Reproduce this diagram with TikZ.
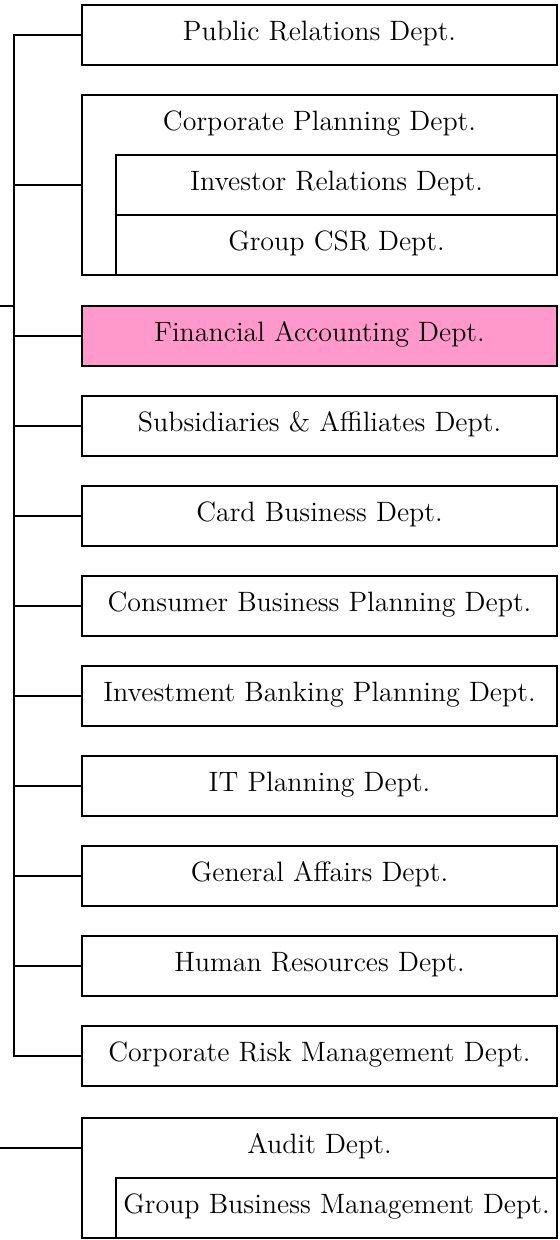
\documentclass[tikz,border=0pt]{standalone}
\usepackage{tikz}
\usetikzlibrary{calc}
\definecolor{accpink}{RGB}{255,153,204}

\begin{document}
\begin{tikzpicture}[x=0.5pt,y=-0.5pt,
    dept/.style={draw, line width=0.8pt, minimum width=237.5pt, minimum height=30pt,
        anchor=north west, inner sep=0pt, outer sep=0pt,
        text height=1.6ex, text depth=.3ex, font=\fontsize{14}{16}\selectfont},
    subdept/.style={dept, minimum width=220.5pt},
    title/.style={dept, draw=none},
    link/.style={line width=0.8pt}]
    \useasboundingbox (0,0) rectangle (560,1240);

    % Departments:
    \node[dept] (prd) at (82,5) {Public Relations Dept.};

    % Corporate planning with its two sub-departments
    \node[title] (cpd) at (82,95) {Corporate Planning Dept.};
    \node[subdept] (ird) at (116,155) {Investor Relations Dept.};
    \node[subdept] (csr) at (116,215) {Group CSR Dept.};
    \draw[link] (cpd.north west) rectangle (csr.south east);
    \coordinate (cpdmid) at ($(cpd.north west)!0.5!(cpd.north west |- csr.south)$);

    \node[dept, fill=accpink] (fad) at (82,306) {Financial Accounting Dept.};

    \foreach \name/\txt [count=\i] in {
            sad/Subsidiaries \& Affiliates Dept.,
            cbd/Card Business Dept.,
            cbp/Consumer Business Planning Dept.,
            ibp/Investment Banking Planning Dept.,
            itp/IT Planning Dept.,
            gad/General Affairs Dept.,
            hrd/Human Resources Dept.,
            crm/Corporate Risk Management Dept.} {
        \node[dept] (\name) at (82,306+90*\i) {\txt};
    }

    % Audit with its sub-department
    \node[title] (aud) at (82,1118) {Audit Dept.};
    \node[subdept] (gbm) at (116,1178) {Group Business Management Dept.};
    \draw[link] (aud.north west) rectangle (gbm.south east);

    % Spine:
    \coordinate (spine) at (14,0);
    \coordinate (parent) at (0,306);
    \draw[link] (prd.west) -| (spine |- crm.west) -- (crm.west);
    \draw[link] (parent) -- (spine |- parent);
    \draw[link] (spine |- cpdmid) -- (cpdmid);
    \foreach \name in {fad,sad,cbd,cbp,ibp,itp,gad,hrd}
        \draw[link] (spine |- \name.west) -- (\name.west);
    \draw[link] (parent |- aud.west) -- (aud.west);
\end{tikzpicture}
\end{document}
